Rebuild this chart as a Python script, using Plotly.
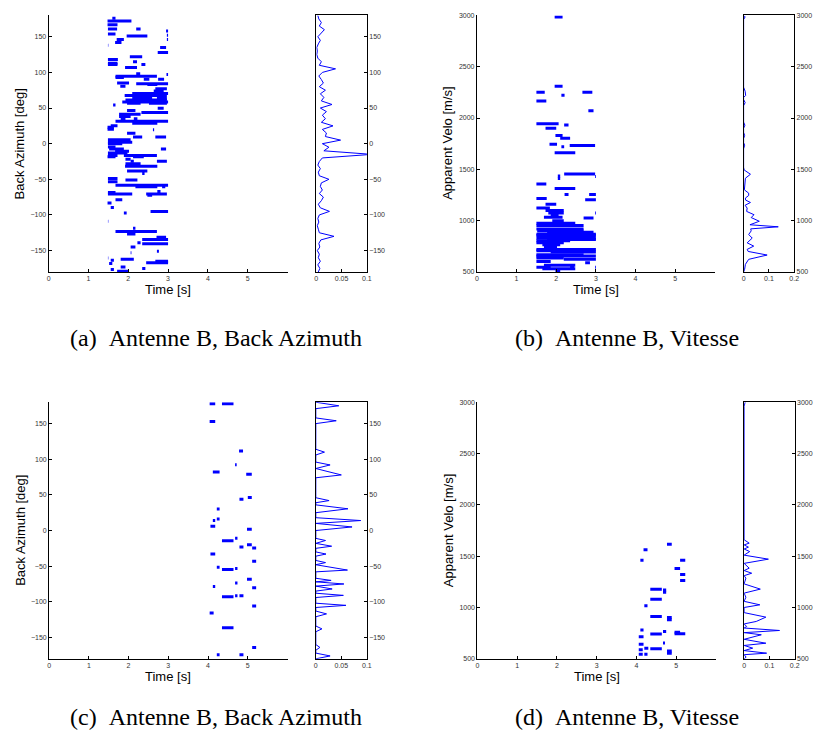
import plotly.graph_objects as go

W, H = 821, 747
BLUE = '#0000ff'

# ---- panel (a): back azimuth tracks, (t_start, t_end, deg)
seg_a = [
    (1.6, 1.68, 176), (1.48, 2.08, 172), (1.48, 1.73, 167), (2.2, 2.31, 161), (1.49, 1.72, 161),
    (2.95, 3.0, 158), (1.49, 1.68, 154), (1.96, 2.48, 151), (2.97, 3.0, 152), (2.97, 3.0, 146),
    (1.71, 1.89, 146), (1.67, 1.83, 142), (1.49, 1.5, 138), (2.8, 2.95, 135), (2.74, 3.0, 128),
    (2.04, 2.35, 122), (1.49, 1.74, 118), (2.12, 2.22, 115), (1.49, 1.73, 113), (1.49, 1.73, 111),
    (2.33, 2.43, 111), (1.92, 2.22, 107), (2.2, 2.3, 98), (2.96, 3.0, 97), (1.68, 2.72, 94.5),
    (1.68, 1.89, 92.7), (2.39, 2.53, 90.4), (2.75, 2.9, 90.4), (1.72, 2.02, 85), (2.2, 3.0, 84),
    (2.48, 2.73, 83), (1.8, 1.93, 80.7), (2.68, 2.97, 77), (2.64, 2.89, 74), (2.1, 3.0, 70.5),
    (1.91, 2.97, 67.7), (2.1, 2.6, 63.5), (2.72, 2.97, 63.5), (1.93, 2.97, 61.2), (1.85, 3.0, 58.4),
    (1.97, 2.31, 56.6), (2.52, 2.97, 56.6), (1.62, 1.68, 54.2), (2.74, 2.89, 49.6), (1.97, 2.18, 46.4),
    (2.33, 3.0, 43.6), (1.77, 2.31, 41.3), (1.77, 2.06, 38), (1.81, 1.93, 35), (2.14, 2.23, 35),
    (1.68, 3.0, 31.5), (2.1, 2.73, 28.7), (1.56, 1.73, 25), (1.48, 1.64, 23.2), (1.48, 1.64, 20.4),
    (2.62, 2.65, 19.5), (1.97, 2.18, 14.8), (2.12, 2.35, 9.3), (2.68, 2.95, 9.3), (1.49, 2.06, 5.6),
    (1.49, 2.1, 1.9), (1.49, 1.85, 0), (1.49, 1.68, -4.6), (1.52, 1.89, -7.4), (2.82, 2.95, -7.4),
    (1.67, 2.02, -10.7), (1.49, 1.98, -13), (1.49, 1.73, -16.7), (1.89, 2.72, -16.7), (1.48, 1.68, -18.5),
    (2.12, 2.39, -18.5), (1.93, 2.06, -22), (2.06, 2.14, -24.6), (2.72, 2.97, -24.6), (1.93, 2.31, -28),
    (1.92, 2.73, -31.5), (1.97, 2.48, -38.5), (2.35, 2.41, -41.7), (1.49, 1.73, -49), (1.93, 2.23, -51),
    (1.49, 1.73, -53.3), (1.68, 3.0, -58.4), (2.18, 2.73, -60.3), (2.85, 2.93, -60.3), (2.73, 2.81, -67),
    (1.49, 1.68, -68.6), (1.49, 2.1, -70.5), (2.45, 2.97, -70.5), (2.48, 2.6, -72.3), (1.68, 1.85, -78.8),
    (1.48, 1.58, -83.4), (1.56, 1.64, -89.5), (2.56, 3.0, -95), (1.89, 1.96, -97.4), (1.49, 1.5, -109),
    (2.12, 2.18, -118.7), (1.68, 2.72, -123.3), (1.97, 2.18, -126.6), (2.71, 2.95, -131.2), (2.35, 3.0, -134.4),
    (2.23, 2.31, -139), (2.35, 3.0, -140.5), (2.06, 2.18, -145), (2.72, 2.77, -151), (2.06, 2.08, -153),
    (1.49, 1.5, -160.4), (1.81, 2.14, -162.3), (1.56, 1.64, -163.6), (2.68, 3.0, -165), (2.45, 3.0, -167),
    (1.52, 1.6, -168), (1.81, 1.93, -173), (2.35, 2.43, -175), (1.56, 1.64, -176.6), (1.72, 2.02, -179),
]
hist_a_deg = list(range(-180, 181, 5))
hist_a_val = [0.004, 0.007, 0.003, 0.008, 0.004, 0.006, 0.002, 0.007, 0.005, 0.009,
              0.035, 0.006, 0.004, 0.002, 0.005, 0.003, 0.006, 0.026, 0.008, 0.004,
              0.010, 0.014, 0.006, 0.012, 0.008, 0.010, 0.025, 0.006, 0.004, 0.008,
              0.003, 0.006, 0.012, 0.110, 0.015, 0.025, 0.012, 0.048, 0.018, 0.020,
              0.012, 0.033, 0.010, 0.018, 0.012, 0.020, 0.008, 0.031, 0.010, 0.015,
              0.008, 0.018, 0.006, 0.014, 0.010, 0.005, 0.012, 0.038, 0.006, 0.010,
              0.003, 0.001, 0.002, 0.001, 0.004, 0.008, 0.003, 0.010, 0.016, 0.006,
              0.010, 0.005, 0.003]

# ---- panel (b): apparent velocity tracks
seg_b = [
    (1.96, 2.16, 2984), (1.96, 2.16, 2310), (1.5, 1.71, 2252), (2.66, 2.91, 2252), (2.13, 2.21, 2223),
    (1.5, 1.75, 2165), (2.81, 2.94, 2071), (1.5, 2.06, 1945), (2.2, 2.31, 1932), (1.73, 2.0, 1900),
    (1.98, 2.16, 1829), (2.1, 2.35, 1803), (1.83, 2.02, 1745), (2.34, 2.98, 1732), (2.13, 2.2, 1719),
    (1.96, 2.48, 1661), (2.2, 2.98, 1455), (2.04, 2.1, 1435), (2.98, 3.0, 1429), (2.04, 2.1, 1410),
    (1.5, 1.75, 1358), (1.96, 2.48, 1313), (2.21, 2.31, 1255), (2.83, 3.0, 1255), (1.5, 1.76, 1216),
    (2.73, 3.0, 1203), (1.73, 2.0, 1161), (1.5, 1.84, 1123), (1.73, 2.19, 1100), (1.8, 2.19, 1074),
    (1.86, 2.06, 1061), (1.69, 2.16, 1032), (2.69, 2.94, 1026), (1.9, 2.19, 1000), (2.98, 3.0, 1075),
    (1.5, 2.48, 974), (1.5, 2.69, 952), (1.5, 2.69, 919), (1.52, 2.69, 900), (1.77, 2.94, 887),
    (1.5, 3.0, 868), (1.5, 3.0, 855), (1.5, 3.0, 829), (1.77, 3.0, 816), (1.5, 2.35, 803),
    (1.5, 2.19, 784), (1.65, 2.1, 765), (1.69, 2.02, 739), (1.5, 3.0, 719), (1.5, 2.85, 706),
    (1.86, 3.0, 694), (1.5, 2.69, 668), (1.5, 3.0, 655), (1.5, 2.19, 635), (2.19, 3.0, 623),
    (1.5, 1.86, 603), (2.73, 2.85, 590), (1.69, 2.48, 565), (1.5, 1.86, 545), (1.65, 2.48, 532),
    (1.98, 2.1, 513), (2.35, 2.45, 545), (2.98, 3.0, 545),
]
hist_b_vel = [500, 526, 574, 623, 665, 700, 720, 752, 784, 830, 865, 900, 920, 940, 960,
              994, 1030, 1058, 1090, 1122, 1150, 1177, 1200, 1220, 1245, 1268, 1300, 1350,
              1380, 1413, 1452, 1494, 1520, 1700, 1735, 1760, 1800, 1830, 1860, 1900, 1930,
              1960, 2120, 2150, 2180, 2200, 2220, 2260, 2300, 2960, 2985, 3000]
hist_b_val = [0.0, 0.004, 0.007, 0.02, 0.093, 0.018, 0.014, 0.04, 0.014, 0.034, 0.02,
              0.03, 0.028, 0.137, 0.025, 0.062, 0.03, 0.041, 0.012, 0.014, 0.006, 0.027,
              0.008, 0.007, 0.02, 0.02, 0.003, 0.004, 0.007, 0.007, 0.027, 0.002, 0.0,
              0.0, 0.004, 0.0, 0.0, 0.004, 0.0, 0.0, 0.005, 0.0, 0.0, 0.006, 0.0, 0.0,
              0.008, 0.006, 0.0, 0.0, 0.006, 0.0]

# ---- panel (c)
seg_c = [
    (4.04, 4.18, 178), (4.35, 4.64, 178), (4.04, 4.18, 153), (4.78, 4.88, 111.5), (4.68, 4.72, 92.4),
    (4.12, 4.29, 82.2), (4.96, 5.1, 79), (5.0, 5.1, 46.4), (4.79, 4.89, 44), (4.22, 4.29, 30.2),
    (4.22, 4.29, 16.3), (4.12, 4.18, 14), (4.06, 4.18, 6), (4.98, 5.1, 1.9), (4.68, 4.74, -10.7),
    (4.35, 4.64, -14.4), (4.98, 5.1, -20), (4.79, 4.89, -23.2), (5.11, 5.21, -24.6), (4.06, 4.18, -33),
    (5.11, 5.21, -43.2), (4.22, 4.29, -51.6), (4.68, 4.74, -53.4), (4.35, 4.64, -54.8), (4.98, 5.1, -68.3),
    (4.68, 4.74, -73.8), (4.12, 4.18, -78.5), (5.11, 5.21, -80.4), (4.35, 4.64, -92.9), (4.68, 4.74, -91.5),
    (4.79, 4.89, -91.5), (5.11, 5.21, -105.9), (4.04, 4.14, -115.7), (4.35, 4.64, -136.6), (5.11, 5.21, -164),
    (4.22, 4.29, -174.2), (4.79, 4.89, -174.2),
]
hist_c_deg = [-180, -176, -172, -168, -164, -160, -142, -138, -134, -121, -117, -113, -108,
              -105, -102, -94, -91, -88, -85, -82, -78, -75, -72, -70, -67, -58, -55.5,
              -52, -48, -45, -42, -36, -33, -30, -25, -22, -18, -14, -11, -8, 0, 5, 10,
              14, 18, 25, 30.5, 36, 39, 42, 46, 74, 78, 83, 87, 92, 96, 106, 110, 114,
              150, 154, 158, 171, 175, 180]
hist_c_val = [0.0, 0.028, 0.0, 0.0, 0.008, 0.0, 0.0, 0.012, 0.0, 0.0, 0.021, 0.0, 0.0,
              0.059, 0.0, 0.0, 0.054, 0.0, 0.0, 0.032, 0.0, 0.055, 0.0, 0.03, 0.0, 0.0,
              0.062, 0.033, 0.0, 0.019, 0.0, 0.0, 0.02, 0.0, 0.0, 0.031, 0.0, 0.019, 0.0,
              0.0, 0.0, 0.071, 0.0, 0.088, 0.0, 0.0, 0.063, 0.0, 0.0, 0.026, 0.0, 0.0,
              0.05, 0.022, 0.0, 0.028, 0.0, 0.0, 0.017, 0.0, 0.0, 0.04, 0.0, 0.0, 0.045, 0.0]

# ---- panel (d)
seg_d = [
    (4.77, 4.89, 1615), (4.18, 4.28, 1563), (4.1, 4.18, 1460), (5.1, 5.23, 1460), (4.96, 5.1, 1380),
    (5.1, 5.23, 1322), (5.1, 5.23, 1264), (4.35, 4.64, 1177), (4.67, 4.75, 1170), (4.67, 4.75, 1148),
    (4.35, 4.64, 1080), (4.2, 4.28, 1016), (4.35, 4.64, 912), (4.77, 4.89, 903), (4.77, 4.89, 880),
    (4.1, 4.18, 780), (4.67, 4.75, 767), (4.96, 5.1, 758), (4.96, 5.23, 745), (4.35, 4.64, 742),
    (4.06, 4.18, 716), (4.67, 4.72, 655), (4.06, 4.18, 642), (4.2, 4.3, 603), (4.35, 4.64, 597),
    (4.06, 4.16, 587), (4.77, 4.89, 577), (4.77, 4.89, 555), (4.06, 4.16, 545), (4.2, 4.28, 545),
]
hist_d_vel = [500, 516, 540, 555, 580, 604, 630, 652, 690, 734, 755, 776, 800, 815, 840,
              864, 906, 950, 1000, 1026, 1060, 1100, 1140, 1179, 1230, 1286, 1310, 1334,
              1360, 1383, 1430, 1471, 1510, 1545, 1570, 1588, 1610, 1627, 1660, 2960, 3000]
hist_d_val = [0.0, 0.008, 0.0, 0.089, 0.0, 0.034, 0.0, 0.086, 0.0, 0.068, 0.0, 0.14, 0.0,
              0.01, 0.0, 0.048, 0.086, 0.0, 0.0, 0.062, 0.0, 0.007, 0.0, 0.064, 0.0, 0.007,
              0.0, 0.03, 0.0, 0.02, 0.0, 0.096, 0.0, 0.022, 0.0, 0.017, 0.0, 0.02, 0.0, 0.0, 0.004]

captions = ['(a)\u00a0\u00a0Antenne B, Back Azimuth', '(b)\u00a0\u00a0Antenne B, Vitesse',
            '(c)\u00a0\u00a0Antenne B, Back Azimuth', '(d)\u00a0\u00a0Antenne B, Vitesse']


def seg_xy(segs):
    xs, ys = [], []
    for t0, t1, v in segs:
        xs += [t0, t1, None]
        ys += [v, v, None]
    return xs, ys


def fx(p):
    return p / W


def fy(p):
    return 1 - p / H


fig = go.Figure()

panels = [
    # segments, hist y, hist vals, main x px, hist x px, y px, y range, y ticks, hist range, hist ticks, ylabel, caption y
    (seg_a, hist_a_deg, hist_a_val, (47, 288), (317, 368), (11.5, 270.5), [-180, 180],
     [-150, -100, -50, 0, 50, 100, 150], [0, 0.1], [0, 0.05, 0.1], 'Back Azimuth [deg]', 337),
    (seg_b, hist_b_vel, hist_b_val, (479, 719), (748, 799), (11.5, 270.5), [500, 3000],
     [500, 1000, 1500, 2000, 2500, 3000], [0, 0.2], [0, 0.1, 0.2], 'Apparent Velo [m/s]', 337),
    (seg_c, hist_c_deg, hist_c_val, (47.5, 288), (316.5, 368), (402, 661), [-180, 180],
     [-150, -100, -50, 0, 50, 100, 150], [0, 0.1], [0, 0.05, 0.1], 'Back Azimuth [deg]', 720),
    (seg_d, hist_d_vel, hist_d_val, (479.5, 720), (748.5, 799.5), (402, 661), [500, 3000],
     [500, 1000, 1500, 2000, 2500, 3000], [0, 0.2], [0, 0.1, 0.2], 'Apparent Velo [m/s]', 720),
]

tickfont = dict(family='Liberation Sans, Arial', size=7, color='#333')
labfont = dict(family='Liberation Sans, Arial', size=13, color='black')
layout = {}
annotations = []
for i, (segs, hy, hv, mx, hx, ypx, yr, yt, hr, ht, ylab, capy) in enumerate(panels):
    m = 2 * i + 1
    h = 2 * i + 2
    xs, ys = seg_xy(segs)
    fig.add_trace(go.Scatter(x=xs, y=ys, mode='lines', line=dict(color=BLUE, width=3),
                             xaxis=f'x{m}', yaxis=f'y{m}', showlegend=False))
    fig.add_trace(go.Scatter(x=hv, y=hy, mode='lines', line=dict(color=BLUE, width=1),
                             xaxis=f'x{h}', yaxis=f'y{h}', showlegend=False))
    ydom = [fy(ypx[1]), fy(ypx[0])]
    common = dict(showgrid=False, zeroline=False, showline=True, linecolor='black',
                  linewidth=1, tickfont=tickfont, ticklen=3, tickcolor='black',
                  ticks='inside')
    layout[f'xaxis{m}'] = dict(common, domain=[fx(mx[0]), fx(mx[1])], range=[0, 6],
                               tickvals=[0, 1, 2, 3, 4, 5], anchor=f'y{m}')
    layout[f'yaxis{m}'] = dict(common, domain=ydom, range=yr, tickvals=yt, anchor=f'x{m}')
    layout[f'xaxis{h}'] = dict(common, domain=[fx(hx[0]), fx(hx[1])], range=hr,
                               tickvals=ht, mirror=True, anchor=f'y{h}')
    layout[f'yaxis{h}'] = dict(common, domain=ydom, range=yr, tickvals=yt,
                               side='right', mirror=True, anchor=f'x{h}')
    # axis titles and captions
    annotations.append(dict(text=ylab, x=fx(mx[0] - 29), y=fy((ypx[0] + ypx[1]) / 2),
                            xref='paper', yref='paper', xanchor='center', yanchor='middle',
                            textangle=-90, showarrow=False, font=labfont))
    annotations.append(dict(text='Time [s]', x=fx((mx[0] + mx[1]) / 2), y=fy(ypx[1] + 18),
                            xref='paper', yref='paper', xanchor='center', yanchor='middle',
                            showarrow=False, font=labfont))
    annotations.append(dict(text=captions[i], x=fx(216 if i % 2 == 0 else 630), y=fy(capy),
                            xref='paper', yref='paper', xanchor='center', yanchor='middle',
                            showarrow=False,
                            font=dict(family='Liberation Serif, Times New Roman', size=24,
                                      color='black')))

fig.update_layout(width=W, height=H, margin=dict(l=0, r=0, t=0, b=0),
                  paper_bgcolor='white', plot_bgcolor='white',
                  annotations=annotations, **layout)

# drop the default page margin so the figure sits at the window's corner
fig.write_html("out.html", config={'displayModeBar': False},
               post_script="document.body.style.margin='0';document.body.style.overflow='hidden';")
